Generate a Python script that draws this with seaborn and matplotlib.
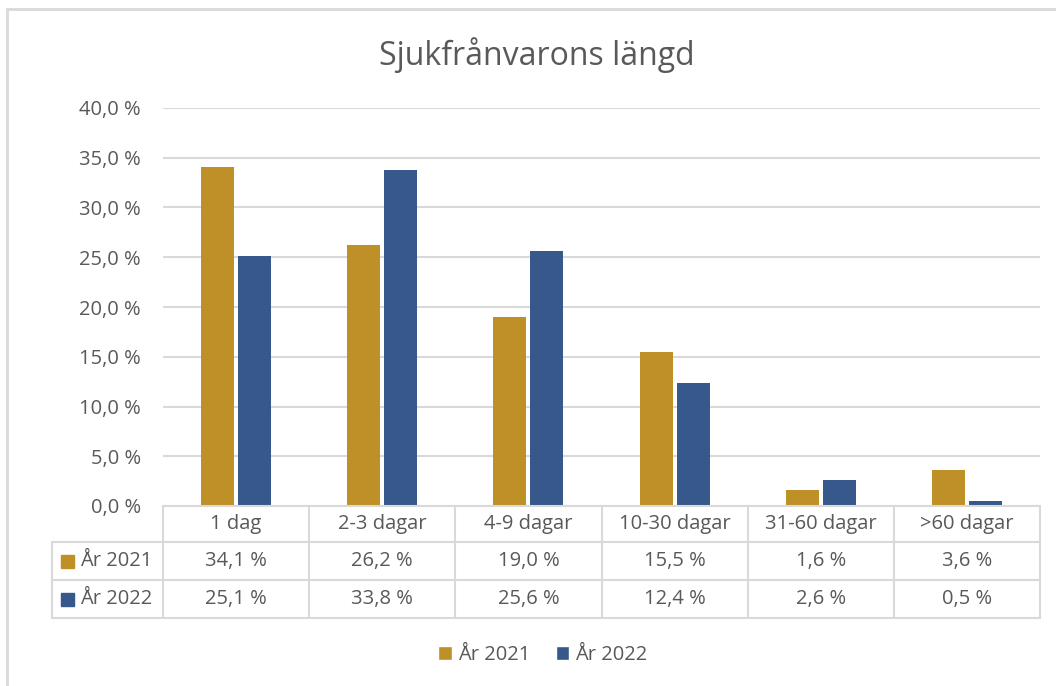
import matplotlib.pyplot as plt
import matplotlib.transforms as mtransforms
from matplotlib.patches import Patch, Rectangle
from matplotlib.lines import Line2D
import seaborn as sns
import pandas as pd

categories = ['1 dag', '2-3 dagar', '4-9 dagar', '10-30 dagar', '31-60 dagar', '>60 dagar']
series = ['År 2021', 'År 2022']
values_2021 = [34.1, 26.2, 19.0, 15.5, 1.6, 3.6]
values_2022 = [25.1, 33.8, 25.6, 12.4, 2.6, 0.5]
yticks = [0, 5, 10, 15, 20, 25, 30, 35, 40]
colors = ['#BF8F28', '#36588A']

df = pd.DataFrame({
    'kategori': categories * 2,
    'serie': [series[0]] * 6 + [series[1]] * 6,
    'andel': values_2021 + values_2022,
})

W, H = 1056, 686
sns.set_theme(style='white')
plt.rcParams['font.family'] = ['Open Sans', 'DejaVu Sans']
text_col = '#595959'
grid_col = '#D9D9D9'
fs = 14.5

fig = plt.figure(figsize=(W / 100, H / 100), dpi=100)


def fy(y):
    # pixel row (top origin) -> figure fraction
    return 1 - y / H


ax = fig.add_axes([163 / W, fy(506), (1040 - 163) / W, (506 - 108) / H])
sns.barplot(data=df, x='kategori', y='andel', hue='serie', palette=colors,
            saturation=1, width=0.507, gap=0.11, ax=ax, legend=False,
            edgecolor='none')
ax.set_xlim(-0.5, 5.5)
ax.set_ylim(0, 40)
ax.set_yticks(yticks)
ax.set_yticklabels([f'{v:.1f} %'.replace('.', ',') for v in yticks],
                   color=text_col, fontsize=fs)
ax.tick_params(axis='y', length=0, pad=16)
ax.set_xticks([])
ax.set_xlabel('')
ax.set_ylabel('')
for s in ax.spines.values():
    s.set_visible(False)
ax.grid(axis='y', color=grid_col, linewidth=1.5)
ax.set_axisbelow(True)

fig.text(537 / W, fy(55), 'Sjukfrånvarons längd', ha='center', va='center',
         fontsize=23, color=text_col)

# data table under the axis
bt = mtransforms.blended_transform_factory(ax.transData, fig.transFigure)
ft = fig.transFigure
lw = 1.5
rows_y = [506, 542, 580, 618]
fig.add_artist(Line2D([163 / W, 1040 / W], [fy(506)] * 2, color=grid_col, lw=lw, transform=ft))
for y in rows_y[1:]:
    fig.add_artist(Line2D([52 / W, 1040 / W], [fy(y)] * 2, color=grid_col, lw=lw, transform=ft))
fig.add_artist(Line2D([52 / W] * 2, [fy(542), fy(618)], color=grid_col, lw=lw, transform=ft))
for xb in [i - 0.5 for i in range(len(categories) + 1)]:
    fig.add_artist(Line2D([xb, xb], [fy(506), fy(618)], color=grid_col, lw=lw, transform=bt))

for i, c in enumerate(categories):
    fig.text(i, fy(524), c, transform=bt, ha='center', va='center', fontsize=fs, color=text_col)
for r, (name, vals) in enumerate(zip(series, [values_2021, values_2022])):
    yc = (rows_y[r + 1] + rows_y[r + 2]) / 2
    for i, v in enumerate(vals):
        fig.text(i, fy(yc), f'{v:.1f} %'.replace('.', ','), transform=bt,
                 ha='center', va='center', fontsize=fs, color=text_col)
    fig.add_artist(Rectangle((61 / W, fy(yc + 6.5)), 13 / W, 13 / H,
                             color=colors[r], transform=ft))
    fig.text(80 / W, fy(yc), name, ha='left', va='center', fontsize=fs, color=text_col)

handles = [Patch(facecolor=colors[k], label=series[k]) for k in range(2)]
fig.legend(handles=handles, loc='center', bbox_to_anchor=(543 / W, fy(655)),
           ncol=2, frameon=False, fontsize=fs, labelcolor=text_col,
           handlelength=0.65, handleheight=0.65, handletextpad=0.3, columnspacing=1.3)

# outer chart border (top and left only visible)
fig.add_artist(Line2D([7 / W, 1], [fy(9)] * 2, color=grid_col, lw=2, transform=ft))
fig.add_artist(Line2D([7 / W] * 2, [0, fy(9)], color=grid_col, lw=2, transform=ft))

fig.savefig('out.png', dpi=100)
